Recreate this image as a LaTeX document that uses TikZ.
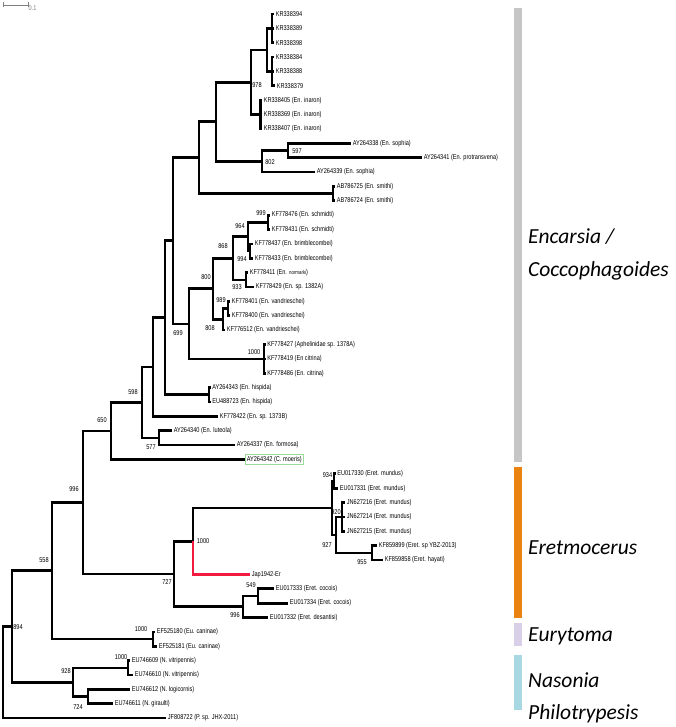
\documentclass[tikz,border=0pt]{standalone}
\usepackage{fontspec}
\newfontfamily\tipfont[FakeStretch=0.8]{Liberation Sans}
\newfontfamily\cladefont{Carlito}
\usetikzlibrary{fit,arrows.meta}
\definecolor{barGray}{HTML}{C6C6C6}
\definecolor{barOrange}{HTML}{EA8310}
\definecolor{barLilac}{HTML}{D8D0E6}
\definecolor{barBlue}{HTML}{A8D8E2}
\definecolor{japRed}{HTML}{F21B3F}
\definecolor{boxGreen}{HTML}{9ADB9A}
\begin{document}
\begin{tikzpicture}[x=1pt,y=-1pt,
    branch/.style={line width=2.7pt},
    tip/.style={anchor=west,inner sep=0pt,font=\tipfont\fontsize{7}{7}\selectfont},
    boot/.style={inner sep=0pt,font=\tipfont\fontsize{7}{7}\selectfont},
    clade/.style={anchor=west,inner sep=0pt,font=\cladefont\itshape\fontsize{21.5}{24}\selectfont}]
    \path[fill=white,use as bounding box] (0,0) rectangle (675,727);
    \foreach \i/\x/\lab in {1/274/KR338394, 2/274/KR338389, 3/274/KR338398, 4/274/KR338384,
        5/274/KR338388, 6/275/KR338379, 7/262/KR338405 (En. inaron), 8/262/KR338369 (En. inaron),
        9/262/KR338407 (En. inaron), 10/351/AY264338 (En. sophia), 11/422/AY264341 (En. protransvena),
        12/315/AY264339 (En. sophia), 13/335/AB786725 (En. smithi), 14/335/AB786724 (En. smithi),
        15/270/KF778476 (En. schmidti), 16/270/KF778431 (En. schmidti), 17/253/KF778437 (En. brimblecombei),
        18/253/KF778433 (En. brimblecombei), 19/248/KF778411 (En. {\fontsize{5.5}{5.5}\selectfont normarki}),
        20/254/KF778429 (En. sp. 1382A), 21/230/KF778401 (En. vandrieschei), 22/230/KF778400 (En. vandrieschei),
        23/225/KF776512 (En. vandrieschei), 24/265.5/KF778427 (Aphelinidae sp. 1378A), 25/265.5/KF778419 (En citrina),
        26/265.5/KF778486 (En. citrina), 27/210.5/AY264343 (En. hispida), 28/210.5/EU488723 (En. hispida),
        29/218/KF778422 (En. sp. 1373B), 30/172/AY264340 (En. luteola), 31/235/AY264337 (En. formosa),
        32/245/AY264342 (C. moeris), 33/335.5/EU017330 (Eret. mundus), 34/338/EU017331 (Eret. mundus),
        35/345/JN627216 (Eret. mundus), 36/345/JN627214 (Eret. mundus), 37/345/JN627215 (Eret. mundus),
        38/377/KF859899 (Eret. sp YBZ-2013), 39/383/KF859858 (Eret. hayati), 40/250/Jap1942-Er,
        41/274/EU017333 (Eret. cocois), 42/288/EU017334 (Eret. cocois), 43/268/EU017332 (Eret. desantisi),
        44/155/EF525180 (Eu. caninae), 45/157/EF525181 (Eu. caninae), 46/130/EU746609 (N. vitripennis),
        47/133/EU746610 (N. vitripennis), 48/130/EU746612 (N. logicornis), 49/113/EU746611 (N. giraulti),
        50/166/JF808722 (P. sp. JHX-2011)} {
        \coordinate (t\i) at (\x,{14+(\i-1)*14.37});
        \node[tip] (l\i) at ([xshift=1.6pt]t\i) {\lab};
    }
    \foreach \n/\x/\y in {nA1/272/28.4, nA2/272/71.5, nA3/267/50, nA4/260.5/114.6, n978/251/82.3,
        n597/288/150.5, n802/262/161.3, nD/216/121.8, nSm/333/193.6, nB/199/157.7,
        n999/268/222.4, n994/250/251.1, n964/248/236.8, n933/246/279.9, n868/233/258.3,
        n989/228/308.6, n808/223/319.4, n800/213/288.8, nCit/264/358.9, n699/189/323.9,
        nA/173/240.8, nHis/209/394.8, nP1/165/317.8, nP2/153/367.1, n577/159/437.9,
        n598/142/402.5, n650/111/431, n934/334/481, n920/342/517, n955/372/552.9,
        nEx/336/535, n927/332/508, n1000e/193/541.2, n549/258/596, n996l/243/606.8,
        n727/174/574, n996u/83/502.5, nEu/153/639.1, n558/52/570.8, n1000v/128/667.9,
        n724/88/696.6, n928/73/682.3, n894/12/626.6, root/3/672.4}
        \coordinate (\n) at (\x,\y);
    \foreach \p/\c in {nA1/t1, nA1/t2, nA1/t3, nA2/t4, nA2/t5, nA2/t6, nA3/nA1, nA3/nA2,
        nA4/t7, nA4/t8, nA4/t9, n978/nA3, n978/nA4, n597/t10, n597/t11, n802/n597, n802/t12,
        nD/n978, nD/n802, nSm/t13, nSm/t14, nB/nD, nB/nSm, n999/t15, n999/t16, n994/t17, n994/t18,
        n964/n999, n964/n994, n933/t19, n933/t20, n868/n964, n868/n933, n989/t21, n989/t22,
        n808/n989, n808/t23, n800/n868, n800/n808, nCit/t24, nCit/t25, nCit/t26, n699/n800, n699/nCit,
        nA/nB, nA/n699, nHis/t27, nHis/t28, nP1/nA, nP1/nHis, nP2/nP1, nP2/t29, n577/t30, n577/t31,
        n598/nP2, n598/n577, n650/n598, n650/t32, n934/t33, n934/t34, n920/t35, n920/t36, n920/t37,
        n955/t38, n955/t39, nEx/n920, nEx/n955, n927/n934, n927/nEx, n1000e/n927,
        n549/t41, n549/t42, n996l/n549, n996l/t43, n727/n1000e, n727/n996l, n996u/n650, n996u/n727,
        nEu/t44, nEu/t45, n558/n996u, n558/nEu, n1000v/t46, n1000v/t47, n724/t48, n724/t49,
        n928/n1000v, n928/n724, n894/n558, n894/n928, root/n894, root/t50}
        \draw[branch] (\p) |- (\c);
    \draw[branch,japRed] (n1000e) |- (t40);
    \node[draw=boxGreen,line width=.7pt,inner sep=1.3pt,fit=(l32)] (moeris) {};
    \foreach \n/\x/\y/\v in {b978/257/85/978, b597/297/151/597, b802/270/162/802, b999/261/213/999,
        b964/240/226/964, b868/223/246/868, b994/242/259/994, b800/206/277/800, b933/237/287/933,
        b989/221/300/989, b808/210/328/808, b699/178/333/699, b1000a/254/352/1000, b598/133/392/598,
        b650/102/420/650, b577/151/447/577, b996a/74/489/996, b934/327.5/475/934, b920/336/512/920,
        b927/327/545/927, b955/362/562/955, b1000b/203/541/1000, b727/167/582/727, b549/251/585/549,
        b996b/235/615/996, b558/44/560/558, b894/18/627/894, b1000c/141/629/1000, b1000d/121/657/1000,
        b928/66/671/928, b724/78/707/724}
        \node[boot] (\n) at (\x,\y) {\v};
    \coordinate (sbl) at (3,5);
    \coordinate (sbr) at (28,5);
    \draw[gray,line width=.5pt,{Bar[width=5pt]}-{Bar[width=5pt]}] (sbl) -- (sbr);
    \node[boot,gray,anchor=west] (sblab) at (28.5,8) {0.1};
    \fill[barGray] (514,8) rectangle (522,462);
    \fill[barOrange] (514,467) rectangle (522,618);
    \fill[barLilac] (514,623) rectangle (522,646);
    \fill[barBlue] (514,655) rectangle (522,710);
    \node[clade] (encL) at (528,237) {Encarsia /};
    \node[clade] (cocL) at (528,271) {Coccophagoides};
    \node[clade] (eretL) at (528,548) {Eretmocerus};
    \node[clade] (euryL) at (528,636) {Eurytoma};
    \node[clade] (nasL) at (528,680) {Nasonia};
    \node[clade] (philL) at (528,714) {Philotrypesis};
\end{tikzpicture}
\end{document}
